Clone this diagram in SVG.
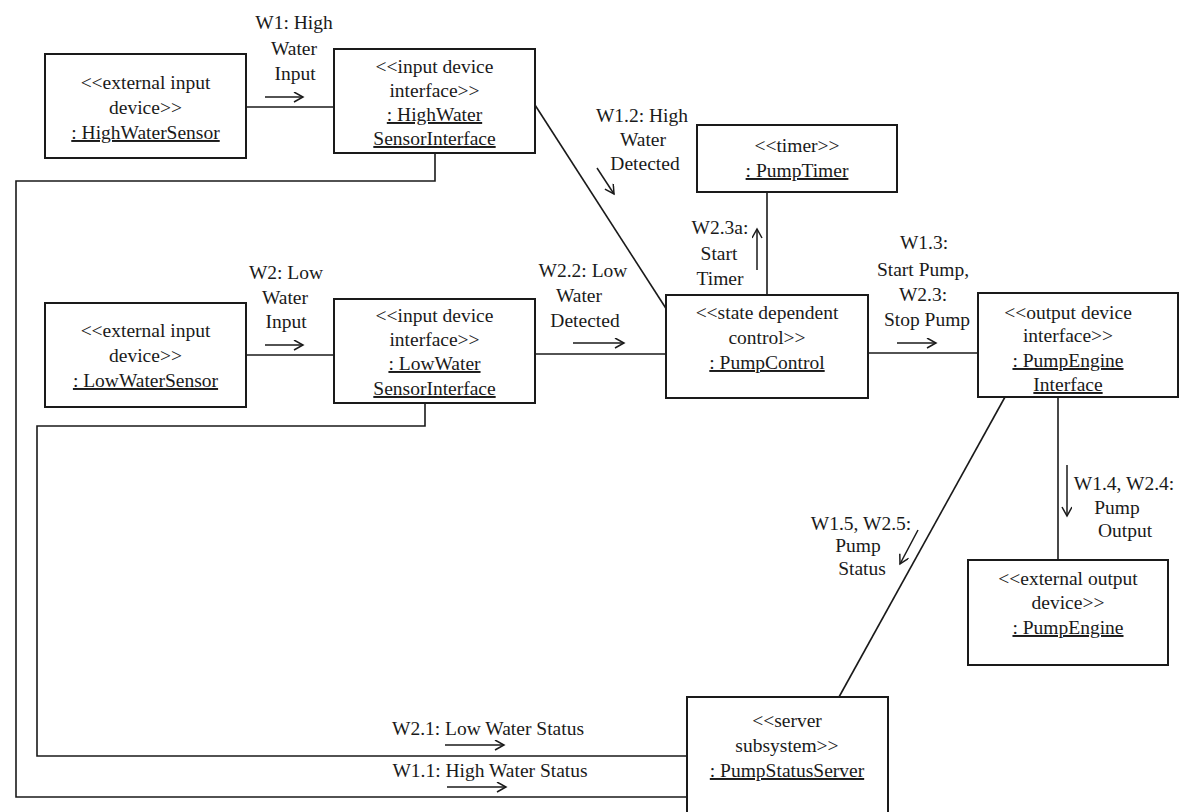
<svg xmlns="http://www.w3.org/2000/svg" width="1180" height="812" viewBox="0 0 1180 812">
<style>
text{font-family:"Liberation Serif","Times New Roman",serif;font-size:19.5px;fill:#1a1a1a;text-anchor:middle}
.u{text-decoration:underline}
.box{fill:#fff;stroke:#1a1a1a;stroke-width:2}
.ln{fill:none;stroke:#1a1a1a;stroke-width:1.6}
.ar{fill:none;stroke:#1a1a1a;stroke-width:1.5;marker-end:url(#ah)}
</style>
<defs>
<marker id="ah" markerUnits="userSpaceOnUse" markerWidth="14" markerHeight="14" refX="10" refY="5" orient="auto">
<path d="M1,0 L10,5 L1,10" fill="none" stroke="#1a1a1a" stroke-width="1.5"/>
</marker>
</defs>
<rect width="1180" height="812" fill="#fff"/>

<g id="connectors">
<line class="ln" x1="246" y1="107" x2="334" y2="107"/>
<line class="ln" x1="246" y1="355" x2="334" y2="355"/>
<polyline class="ln" points="435,153 435,181 16,181 16,797 687,797"/>
<polyline class="ln" points="425,403 425,426 37,426 37,756 687,756"/>
<line class="ln" x1="535" y1="105" x2="667" y2="310"/>
<line class="ln" x1="535" y1="354" x2="666" y2="354"/>
<line class="ln" x1="767" y1="192" x2="767" y2="295"/>
<line class="ln" x1="868" y1="353" x2="978" y2="353"/>
<line class="ln" x1="1058" y1="397" x2="1058" y2="560"/>
<line class="ln" x1="1005" y1="397" x2="839" y2="697"/>

<line class="ar" x1="265" y1="97" x2="303" y2="97"/>
<line class="ar" x1="265" y1="345" x2="303" y2="345"/>
<line class="ar" x1="597" y1="168" x2="614" y2="194"/>
<line class="ar" x1="757" y1="270" x2="757" y2="229"/>
<line class="ar" x1="573" y1="343" x2="624" y2="343"/>
<line class="ar" x1="897" y1="343" x2="936" y2="343"/>
<line class="ar" x1="1067" y1="465" x2="1067" y2="516"/>
<line class="ar" x1="918" y1="530" x2="900" y2="564"/>
<line class="ar" x1="445" y1="745" x2="504" y2="745"/>
<line class="ar" x1="447" y1="787" x2="506" y2="787"/>

<g id="labels">
<text x="294" y="29">W1: High</text>
<text x="294" y="55">Water</text>
<text x="295" y="80">Input</text>
<text x="286" y="279">W2: Low</text>
<text x="285" y="304">Water</text>
<text x="286" y="328">Input</text>
<text x="642" y="122">W1.2: High</text>
<text x="643" y="146">Water</text>
<text x="645" y="170">Detected</text>
<text x="720" y="234">W2.3a:</text>
<text x="719" y="260">Start</text>
<text x="720" y="285">Timer</text>
<text x="583" y="277">W2.2: Low</text>
<text x="579" y="302">Water</text>
<text x="585" y="327">Detected</text>
<text x="924" y="249">W1.3:</text>
<text x="923" y="276">Start Pump,</text>
<text x="923" y="301">W2.3:</text>
<text x="927" y="326">Stop Pump</text>
<text x="1124" y="490">W1.4, W2.4:</text>
<text x="1117" y="514">Pump</text>
<text x="1125" y="537">Output</text>
<text x="861" y="530">W1.5, W2.5:</text>
<text x="858" y="552">Pump</text>
<text x="862" y="575">Status</text>
<text x="488" y="735">W2.1: Low Water Status</text>
<text x="490" y="777">W1.1: High Water Status</text>
</g>
</g>

<g id="HighWaterSensor">
<rect class="box" x="45" y="54" width="201" height="104"/>
<text x="145.5" y="89">&lt;&lt;external input</text>
<text x="145.5" y="114">device&gt;&gt;</text>
<text x="145.5" y="139" class="u">: HighWaterSensor</text>
</g>

<g id="HighWaterSensorInterface">
<rect class="box" x="334" y="49" width="201" height="104"/>
<text x="434.5" y="73">&lt;&lt;input device</text>
<text x="434.5" y="97">interface&gt;&gt;</text>
<text x="434.5" y="121" class="u">: HighWater</text>
<text x="434.5" y="145" class="u">SensorInterface</text>
</g>

<g id="LowWaterSensor">
<rect class="box" x="45" y="303" width="201" height="104"/>
<text x="145.5" y="337">&lt;&lt;external input</text>
<text x="145.5" y="362">device&gt;&gt;</text>
<text x="145.5" y="387" class="u">: LowWaterSensor</text>
</g>

<g id="LowWaterSensorInterface">
<rect class="box" x="334" y="299" width="201" height="104"/>
<text x="434.5" y="322">&lt;&lt;input device</text>
<text x="434.5" y="346">interface&gt;&gt;</text>
<text x="434.5" y="370" class="u">: LowWater</text>
<text x="434.5" y="395" class="u">SensorInterface</text>
</g>

<g id="PumpTimer">
<rect class="box" x="697" y="125" width="200" height="67"/>
<text x="797" y="152">&lt;&lt;timer&gt;&gt;</text>
<text x="797" y="177" class="u">: PumpTimer</text>
</g>

<g id="PumpControl">
<rect class="box" x="666" y="295" width="202" height="103"/>
<text x="767" y="319">&lt;&lt;state dependent</text>
<text x="767" y="344">control&gt;&gt;</text>
<text x="767" y="369" class="u">: PumpControl</text>
</g>

<g id="PumpEngineInterface">
<rect class="box" x="978" y="293" width="200" height="104"/>
<text x="1068" y="319">&lt;&lt;output device</text>
<text x="1068" y="342">interface&gt;&gt;</text>
<text x="1068" y="367" class="u">: PumpEngine</text>
<text x="1068" y="391" class="u">Interface</text>
</g>

<g id="PumpEngine">
<rect class="box" x="968" y="560" width="200" height="105"/>
<text x="1068" y="585">&lt;&lt;external output</text>
<text x="1068" y="609">device&gt;&gt;</text>
<text x="1068" y="634" class="u">: PumpEngine</text>
</g>

<g id="PumpStatusServer">
<rect class="box" x="687" y="697" width="201" height="130"/>
<text x="787" y="727">&lt;&lt;server</text>
<text x="787" y="752">subsystem&gt;&gt;</text>
<text x="787" y="777" class="u">: PumpStatusServer</text>
</g>
</svg>
